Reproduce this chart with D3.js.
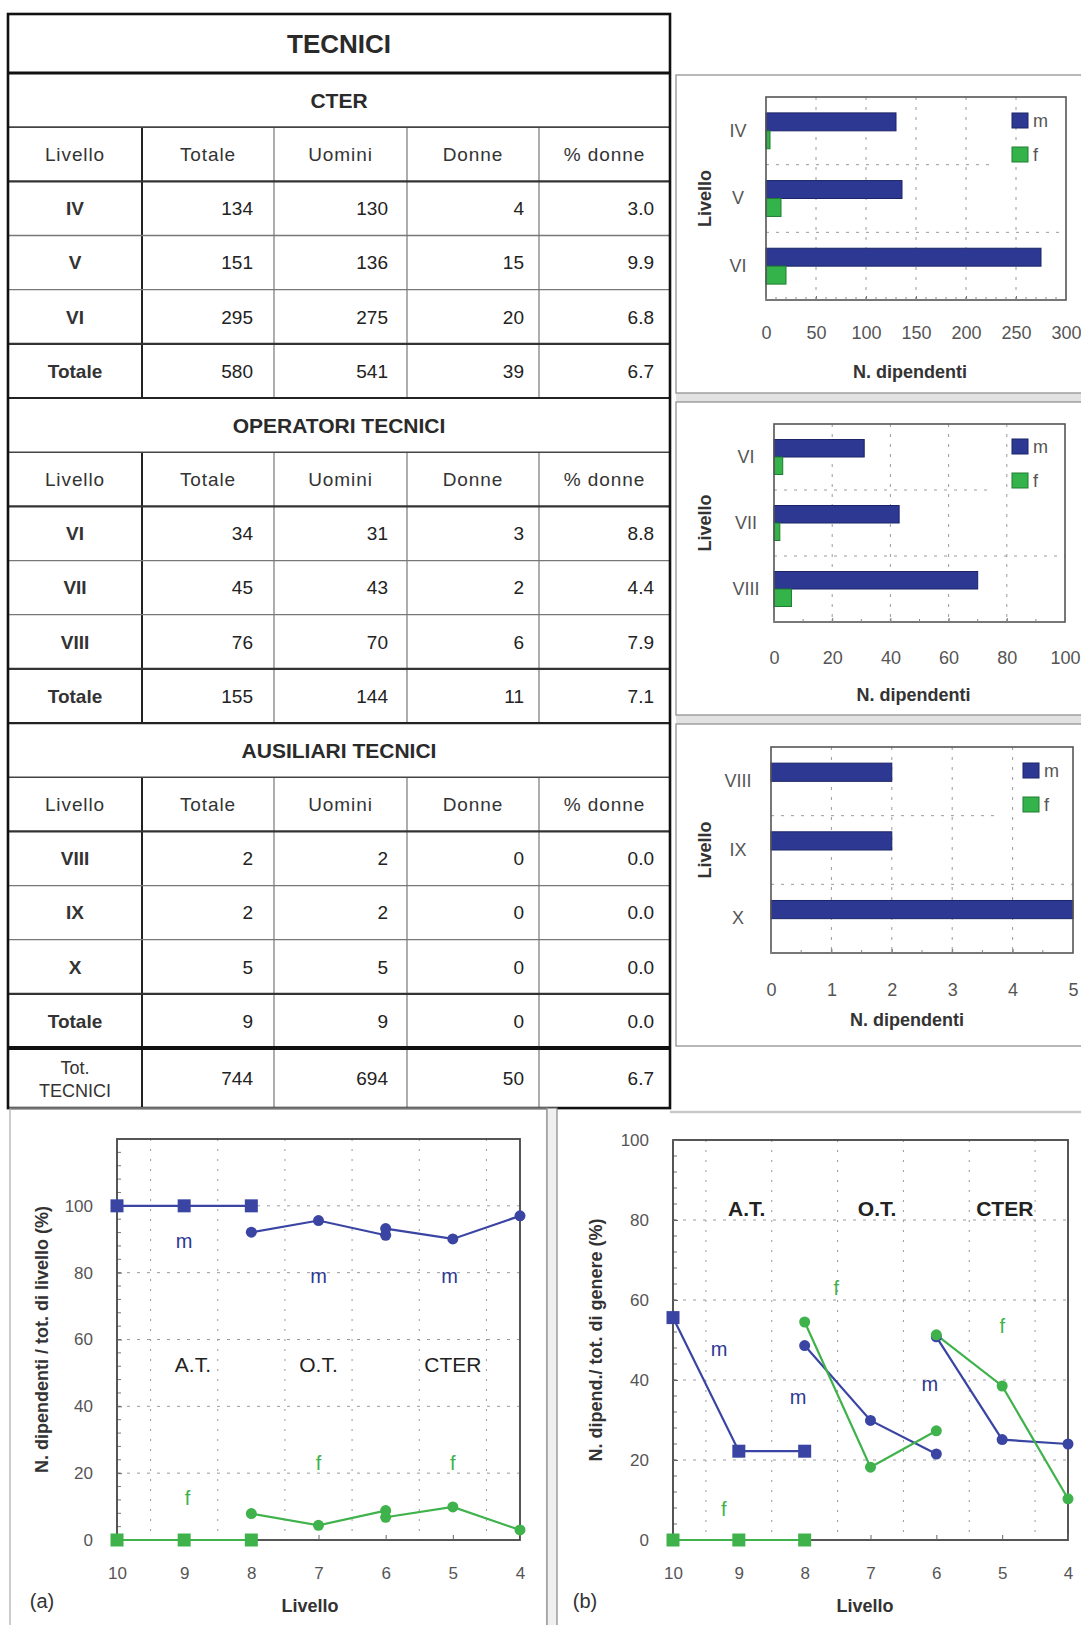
<!DOCTYPE html>
<html>
<head>
<meta charset="utf-8">
<script src="https://cdn.jsdelivr.net/npm/d3@7"></script>
<style>
  html, body { margin: 0; padding: 0; background: #fff; }
  svg { display: block; font-family: "Liberation Sans", Arial, Helvetica, sans-serif; }
</style>
</head>
<body>
<svg id="fig" width="1081" height="1625"></svg>
<script>
// ---------------- data ----------------
const colonne = ["Livello", "Totale", "Uomini", "Donne", "% donne"];

const cterLivelli = ["IV", "V", "VI"];
const cterTotale  = [134, 151, 295];
const cterUomini  = [130, 136, 275];
const cterDonne   = [4, 15, 20];
const cterPct     = [3.0, 9.9, 6.8];
const cterSomma   = [580, 541, 39, 6.7];

const otLivelli = ["VI", "VII", "VIII"];
const otTotale  = [34, 45, 76];
const otUomini  = [31, 43, 70];
const otDonne   = [3, 2, 6];
const otPct     = [8.8, 4.4, 7.9];
const otSomma   = [155, 144, 11, 7.1];

const atLivelli = ["VIII", "IX", "X"];
const atTotale  = [2, 2, 5];
const atUomini  = [2, 2, 5];
const atDonne   = [0, 0, 0];
const atPct     = [0.0, 0.0, 0.0];
const atSomma   = [9, 9, 0, 0.0];

const totTecnici = [744, 694, 50, 6.7];

// numeric levels used on the line charts
const livNumAT   = [10, 9, 8];
const livNumOT   = [8, 7, 6];
const livNumCTER = [6, 5, 4];

// (a) share of each gender within the level (%)
const aMasAT   = [100, 100, 100];
const aFemAT   = [0, 0, 0];
const aMasOT   = [92.1, 95.6, 91.2];
const aFemOT   = [7.9, 4.4, 8.8];
const aMasCTER = [93.2, 90.1, 97.0];
const aFemCTER = [6.8, 9.9, 3.0];

// (b) share of the level within the gender total of the profile (%)
const bMasAT   = [55.6, 22.2, 22.2];
const bFemAT   = [0, 0, 0];
const bMasOT   = [48.6, 29.9, 21.5];
const bFemOT   = [54.5, 18.2, 27.3];
const bMasCTER = [50.8, 25.1, 24.0];
const bFemCTER = [51.3, 38.5, 10.3];

const BLUE = "#2d3893", BLUE_EDGE = "#1b2468";
const GREEN = "#33b34a", GREEN_EDGE = "#1f7d31";
const LINE_BLUE = "#3a45a3", LINE_GREEN = "#3fb24c";

const svg = d3.select("#fig");

// ---------------- table ----------------
const colX = [8, 142, 274, 407, 539, 670];
const numPad = [0, 21, 19, 15, 16];
const sezioni = [
  { nome: "CTER", livelli: cterLivelli, cols: [cterTotale, cterUomini, cterDonne, cterPct], somma: cterSomma },
  { nome: "OPERATORI TECNICI", livelli: otLivelli, cols: [otTotale, otUomini, otDonne, otPct], somma: otSomma },
  { nome: "AUSILIARI TECNICI", livelli: atLivelli, cols: [atTotale, atUomini, atDonne, atPct], somma: atSomma }
];
const fmtCell = (v, j) => j === 3 ? d3.format(".1f")(v) : String(v);

const righe = [{ kind: "title", h: 59, text: "TECNICI" }];
sezioni.forEach(s => {
  righe.push({ kind: "section", h: 54.17, text: s.nome });
  righe.push({ kind: "header", h: 54.17, cells: colonne });
  s.livelli.forEach((l, i) => righe.push({ kind: "data", h: 54.17, cells: [l].concat(s.cols.map((c, j) => fmtCell(c[i], j))) }));
  righe.push({ kind: "total", h: 54.17, cells: ["Totale"].concat(s.somma.map((v, j) => fmtCell(v, j))) });
});
righe.push({ kind: "grand", h: 60, cells: [["Tot.", "TECNICI"]].concat(totTecnici.map((v, j) => fmtCell(v, j))) });

let yy = 14;
righe.forEach(r => { r.y = yy; yy += r.h; });
const tableBottom = yy;

const tab = svg.append("g").attr("class", "tabella");

// column dividers
righe.forEach(r => {
  if (r.kind === "title" || r.kind === "section") return;
  for (let j = 1; j < 5; j++) {
    tab.append("line")
      .attr("x1", colX[j]).attr("x2", colX[j])
      .attr("y1", r.y).attr("y2", r.y + r.h)
      .attr("stroke", j === 1 ? "#222" : "#777")
      .attr("stroke-width", j === 1 ? 2 : 1.2);
  }
});

// row rules
righe.forEach((r, i) => {
  if (i === 0) return;
  const prev = righe[i - 1];
  let sw = 1.3, col = "#777";
  if (prev.kind === "title") { sw = 3; col = "#111"; }
  else if (r.kind === "section") { sw = 2.2; col = "#222"; }
  else if (r.kind === "header") { sw = 1.6; col = "#444"; }
  else if (r.kind === "data" && prev.kind === "header") { sw = 2.2; col = "#333"; }
  else if (r.kind === "total") { sw = 2.2; col = "#333"; }
  else if (r.kind === "grand") { sw = 4; col = "#111"; }
  tab.append("line")
    .attr("x1", colX[0]).attr("x2", colX[5])
    .attr("y1", r.y).attr("y2", r.y)
    .attr("stroke", col).attr("stroke-width", sw);
});

// outer border
tab.append("rect")
  .attr("x", colX[0]).attr("y", righe[0].y)
  .attr("width", colX[5] - colX[0]).attr("height", tableBottom - righe[0].y)
  .attr("fill", "none").attr("stroke", "#111").attr("stroke-width", 2.6);

// texts
righe.forEach(r => {
  const cy = r.y + r.h / 2;
  if (r.kind === "title" || r.kind === "section") {
    tab.append("text")
      .attr("x", (colX[0] + colX[5]) / 2).attr("y", cy).attr("dy", "0.36em")
      .attr("text-anchor", "middle")
      .attr("font-size", r.kind === "title" ? 26 : 21)
      .attr("font-weight", "bold")
      .attr("fill", "#2a2a2a")
      .text(r.text);
    return;
  }
  r.cells.forEach((c, j) => {
    const t = tab.append("text").attr("fill", "#222").attr("font-size", 19);
    if (r.kind === "header") {
      t.attr("letter-spacing", 0.9).attr("fill", "#333");
    } else if (j === 0) {
      t.attr("font-weight", "bold").attr("fill", "#333");
    }
    if (r.kind === "header" || j === 0) {
      t.attr("x", (colX[j] + colX[j + 1]) / 2).attr("text-anchor", "middle");
    } else {
      t.attr("x", colX[j + 1] - numPad[j]).attr("text-anchor", "end");
    }
    if (Array.isArray(c)) {
      t.attr("font-size", 18).attr("font-weight", "normal");
      t.append("tspan").attr("x", (colX[0] + colX[1]) / 2).attr("y", cy - 11).attr("dy", "0.36em").text(c[0]);
      t.append("tspan").attr("x", (colX[0] + colX[1]) / 2).attr("y", cy + 12).attr("dy", "0.36em").text(c[1]);
    } else {
      t.attr("y", cy).attr("dy", "0.36em").text(c);
    }
  });
});

// ---------------- horizontal bar panels ----------------
function pannelloBarre(cfg) {
  const g = svg.append("g");
  // panel frame
  g.append("rect")
    .attr("x", cfg.box[0]).attr("y", cfg.box[1])
    .attr("width", cfg.box[2]).attr("height", cfg.box[3])
    .attr("fill", "#fff").attr("stroke", "#9a9a9a").attr("stroke-width", 1.4);

  const x = d3.scaleLinear().domain([0, cfg.max]).range([cfg.l, cfg.r]);
  const y = d3.scaleBand().domain(cfg.livelli).range([cfg.t, cfg.b]).paddingInner(0.47).paddingOuter(0.235);
  const sub = d3.scaleBand().domain(["m", "f"]).range([0, y.bandwidth()]);
  const step = y.step();

  // grid
  const ticks = d3.range(0, cfg.max + cfg.step / 2, cfg.step);
  g.selectAll(".vg").data(ticks.slice(1, -1)).join("line")
    .attr("x1", d => x(d)).attr("x2", d => x(d))
    .attr("y1", cfg.t).attr("y2", cfg.b)
    .attr("stroke", "#9a9a9a").attr("stroke-width", 1).attr("stroke-dasharray", "3,7");
  cfg.livelli.slice(1).forEach((l, i) => {
    const yy = cfg.t + step * (i + 1);
    g.append("line")
      .attr("x1", cfg.l).attr("x2", i === 0 ? cfg.legend[0] - 22 : cfg.r)
      .attr("y1", yy).attr("y2", yy)
      .attr("stroke", "#9a9a9a").attr("stroke-width", 1).attr("stroke-dasharray", "3,7");
  });

  // bars
  const dati = [];
  cfg.livelli.forEach((l, i) => {
    dati.push({ liv: l, g: "m", v: cfg.uomini[i] });
    dati.push({ liv: l, g: "f", v: cfg.donne[i] });
  });
  g.selectAll(".bar").data(dati.filter(d => d.v > 0)).join("rect")
    .attr("x", x(0))
    .attr("y", d => y(d.liv) + sub(d.g))
    .attr("width", d => x(d.v) - x(0))
    .attr("height", sub.bandwidth())
    .attr("fill", d => d.g === "m" ? BLUE : GREEN)
    .attr("stroke", d => d.g === "m" ? BLUE_EDGE : GREEN_EDGE)
    .attr("stroke-width", 1);

  // frame
  g.append("rect")
    .attr("x", cfg.l).attr("y", cfg.t)
    .attr("width", cfg.r - cfg.l).attr("height", cfg.b - cfg.t)
    .attr("fill", "none").attr("stroke", "#555").attr("stroke-width", 1.6);

  // x axis
  const ax = g.append("g").attr("transform", `translate(0,${cfg.b})`)
    .call(d3.axisBottom(x).tickValues(ticks).tickFormat(d3.format("d"))
      .tickSizeInner(-4).tickSizeOuter(0).tickPadding(cfg.pad));
  ax.select(".domain").remove();
  ax.selectAll("line").attr("stroke", "#777");
  ax.selectAll("text").attr("font-size", 18).attr("fill", "#555").attr("font-family", null);
  // minor ticks
  g.selectAll(".mt").data(d3.range(0, cfg.max, cfg.minor)).join("line")
    .attr("x1", d => x(d)).attr("x2", d => x(d))
    .attr("y1", cfg.b).attr("y2", cfg.b - 3)
    .attr("stroke", "#888");

  // y axis (levels)
  const ay = g.append("g").attr("transform", `translate(${cfg.l},0)`)
    .call(d3.axisLeft(y).tickSize(0).tickPadding(0));
  ay.select(".domain").remove();
  ay.selectAll("text").attr("x", -cfg.labOff).attr("text-anchor", "middle")
    .attr("font-size", 18).attr("fill", "#555").attr("font-family", null);

  // titles
  g.append("text").attr("x", (cfg.l + cfg.r) / 2 + cfg.titleDx).attr("y", cfg.titleY).attr("dy", "0.36em")
    .attr("text-anchor", "middle").attr("font-size", 18).attr("font-weight", "bold").attr("fill", "#333")
    .text("N. dipendenti");
  g.append("text")
    .attr("transform", `translate(705,${(cfg.t + cfg.b) / 2}) rotate(-90)`)
    .attr("dy", "0.36em").attr("text-anchor", "middle")
    .attr("font-size", 18).attr("font-weight", "bold").attr("fill", "#333")
    .text("Livello");

  // legend
  [["m", BLUE, BLUE_EDGE], ["f", GREEN, GREEN_EDGE]].forEach((d, i) => {
    const ly = cfg.legend[1] + i * 34;
    g.append("rect").attr("x", cfg.legend[0]).attr("y", ly).attr("width", 16).attr("height", 15)
      .attr("fill", d[1]).attr("stroke", d[2]);
    g.append("text").attr("x", cfg.legend[0] + 21).attr("y", ly + 7.5).attr("dy", "0.36em")
      .attr("font-size", 18).attr("fill", "#555").text(d[0]);
  });
}

// gap bands between the right-hand panels
svg.append("rect").attr("x", 676).attr("y", 393).attr("width", 405).attr("height", 9).attr("fill", "#e2e2e2");
svg.append("rect").attr("x", 676).attr("y", 715).attr("width", 405).attr("height", 9).attr("fill", "#e2e2e2");

pannelloBarre({
  box: [676, 75, 410, 318], l: 766, r: 1066, t: 97, b: 300, max: 300, step: 50, minor: 10,
  livelli: cterLivelli, uomini: cterUomini, donne: cterDonne,
  pad: 26, titleY: 372, titleDx: -6, labOff: 28, legend: [1012, 113]
});
pannelloBarre({
  box: [676, 402, 410, 313], l: 774, r: 1065, t: 424, b: 622, max: 100, step: 20, minor: 10,
  livelli: otLivelli, uomini: otUomini, donne: otDonne,
  pad: 29, titleY: 695, titleDx: -6, labOff: 28, legend: [1012, 439]
});
pannelloBarre({
  box: [676, 724, 410, 322], l: 771, r: 1073, t: 747, b: 953, max: 5, step: 1, minor: 0.5,
  livelli: atLivelli, uomini: atUomini, donne: atDonne,
  pad: 30, titleY: 1020, titleDx: -15, labOff: 33, legend: [1023, 763]
});

// ---------------- bottom line charts ----------------
// surrounding frames
svg.append("rect").attr("x", 10).attr("y", tableBottom).attr("width", 537).attr("height", 1625 - tableBottom + 5)
  .attr("fill", "none").attr("stroke", "#aaa").attr("stroke-width", 1.2);
svg.append("rect").attr("x", 547).attr("y", tableBottom).attr("width", 10).attr("height", 1625 - tableBottom + 5)
  .attr("fill", "#f0f0f0").attr("stroke", "#888").attr("stroke-width", 1.2);
svg.append("line").attr("x1", 670).attr("x2", 1081).attr("y1", 1112).attr("y2", 1112)
  .attr("stroke", "#c8c8c8").attr("stroke-width", 2.5);

function graficoLinee(cfg) {
  const g = svg.append("g");
  const x = d3.scaleLinear().domain([10, 4]).range([cfg.l, cfg.r]);
  const y = d3.scaleLinear().domain([0, cfg.yMax]).range([cfg.b, cfg.t]);

  // grid
  const halfX = d3.range(9.5, 4, -1);
  g.selectAll(".vg").data(halfX).join("line")
    .attr("x1", d => x(d)).attr("x2", d => x(d)).attr("y1", cfg.t).attr("y2", cfg.b)
    .attr("stroke", "#9a9a9a").attr("stroke-width", 1).attr("stroke-dasharray", "2,8");
  const yGrid = d3.range(20, cfg.yMax, 20);
  g.selectAll(".hg").data(yGrid).join("line")
    .attr("x1", cfg.l).attr("x2", cfg.r).attr("y1", d => y(d)).attr("y2", d => y(d))
    .attr("stroke", "#9a9a9a").attr("stroke-width", 1).attr("stroke-dasharray", "3,7");
  // minor ticks on the left edge
  g.selectAll(".my").data(d3.range(0, cfg.yMax, 4)).join("line")
    .attr("x1", cfg.l).attr("x2", cfg.l + 4).attr("y1", d => y(d)).attr("y2", d => y(d))
    .attr("stroke", "#777");

  // frame
  g.append("rect").attr("x", cfg.l).attr("y", cfg.t).attr("width", cfg.r - cfg.l).attr("height", cfg.b - cfg.t)
    .attr("fill", "none").attr("stroke", "#444").attr("stroke-width", 1.8);

  // axes
  const ax = g.append("g").attr("transform", `translate(0,${cfg.b})`)
    .call(d3.axisBottom(x).tickValues(d3.range(10, 3, -1)).tickFormat(d3.format("d"))
      .tickSizeInner(-5).tickSizeOuter(0).tickPadding(27));
  ax.select(".domain").remove();
  ax.selectAll("line").attr("stroke", "#666");
  ax.selectAll("text").attr("font-size", 17).attr("fill", "#555").attr("font-family", null);

  const ay = g.append("g").attr("transform", `translate(${cfg.l},0)`)
    .call(d3.axisLeft(y).tickValues(d3.range(0, 101, 20)).tickSizeInner(-5).tickSizeOuter(0).tickPadding(24));
  ay.select(".domain").remove();
  ay.selectAll("line").attr("stroke", "#666");
  ay.selectAll("text").attr("font-size", 17).attr("fill", "#555").attr("font-family", null);

  // axis titles
  g.append("text").attr("x", cfg.xTitle[0]).attr("y", cfg.xTitle[1]).attr("dy", "0.36em")
    .attr("text-anchor", "middle").attr("font-size", 18).attr("font-weight", "bold").attr("fill", "#333")
    .text("Livello");
  g.append("text").attr("transform", `translate(${cfg.yTitleX},${(cfg.t + cfg.b) / 2}) rotate(-90)`)
    .attr("dy", "0.36em").attr("text-anchor", "middle")
    .attr("font-size", 18).attr("font-weight", "bold").attr("fill", "#333")
    .text(cfg.yTitle);
  g.append("text").attr("x", cfg.tag[0]).attr("y", cfg.tag[1]).attr("dy", "0.36em")
    .attr("text-anchor", "middle").attr("font-size", 20).attr("fill", "#333").text(cfg.tag[2]);

  // series
  const line = d3.line().x(d => x(d[0])).y(d => y(d[1]));
  cfg.serie.forEach(s => {
    const pts = s.x.map((v, i) => [v, s.y[i]]);
    g.append("path").datum(pts).attr("d", line)
      .attr("fill", "none").attr("stroke", s.col).attr("stroke-width", 2.2);
  });
  cfg.serie.forEach(s => {
    const pts = s.x.map((v, i) => [v, s.y[i]]);
    if (s.mark === "square") {
      g.selectAll(null).data(pts).join("rect")
        .attr("x", d => x(d[0]) - 6.5).attr("y", d => y(d[1]) - 6.5)
        .attr("width", 13).attr("height", 13).attr("fill", s.col);
    } else {
      g.selectAll(null).data(pts).join("circle")
        .attr("cx", d => x(d[0])).attr("cy", d => y(d[1])).attr("r", 5.5).attr("fill", s.col);
    }
  });

  // annotations
  cfg.note.forEach(n => {
    g.append("text").attr("x", x(n[0])).attr("y", y(n[1])).attr("dy", "0.36em")
      .attr("text-anchor", "middle")
      .attr("font-size", n[3] === "g" ? 21 : 20)
      .attr("font-weight", n[3] === "g" && cfg.boldGroups ? "bold" : "normal")
      .attr("fill", n[3] === "m" ? BLUE : n[3] === "f" ? LINE_GREEN : "#222")
      .text(n[2]);
  });
}

graficoLinee({
  l: 117, r: 520, t: 1139, b: 1540, yMax: 120,
  xTitle: [310, 1606], yTitleX: 42, tag: [42, 1601, "(a)"],
  yTitle: "N. dipendenti / tot. di livello (%)",
  boldGroups: false,
  serie: [
    { x: livNumAT, y: aMasAT, col: LINE_BLUE, mark: "square" },
    { x: livNumAT, y: aFemAT, col: LINE_GREEN, mark: "square" },
    { x: livNumOT, y: aMasOT, col: LINE_BLUE, mark: "circle" },
    { x: livNumOT, y: aFemOT, col: LINE_GREEN, mark: "circle" },
    { x: livNumCTER, y: aMasCTER, col: LINE_BLUE, mark: "circle" },
    { x: livNumCTER, y: aFemCTER, col: LINE_GREEN, mark: "circle" }
  ],
  note: [
    [8.87, 52.5, "A.T.", "g"], [7.0, 52.5, "O.T.", "g"], [5.0, 52.5, "CTER", "g"],
    [9.0, 89.5, "m", "m"], [7.0, 79, "m", "m"], [5.05, 79, "m", "m"],
    [8.95, 12.5, "f", "f"], [7.0, 23, "f", "f"], [5.0, 23, "f", "f"]
  ]
});

graficoLinee({
  l: 673, r: 1068, t: 1140, b: 1540, yMax: 100,
  xTitle: [865, 1606], yTitleX: 596, tag: [585, 1601, "(b)"],
  yTitle: "N. dipend./ tot. di genere (%)",
  boldGroups: true,
  serie: [
    { x: livNumAT, y: bMasAT, col: LINE_BLUE, mark: "square" },
    { x: livNumAT, y: bFemAT, col: LINE_GREEN, mark: "square" },
    { x: livNumOT, y: bMasOT, col: LINE_BLUE, mark: "circle" },
    { x: livNumOT, y: bFemOT, col: LINE_GREEN, mark: "circle" },
    { x: livNumCTER, y: bMasCTER, col: LINE_BLUE, mark: "circle" },
    { x: livNumCTER, y: bFemCTER, col: LINE_GREEN, mark: "circle" }
  ],
  note: [
    [8.88, 83, "A.T.", "g"], [6.9, 83, "O.T.", "g"], [4.96, 83, "CTER", "g"],
    [9.3, 47.8, "m", "m"], [8.1, 35.7, "m", "m"], [6.1, 39, "m", "m"],
    [7.52, 63, "f", "f"], [5.0, 53.6, "f", "f"], [9.23, 7.9, "f", "f"]
  ]
});
</script>
</body>
</html>
